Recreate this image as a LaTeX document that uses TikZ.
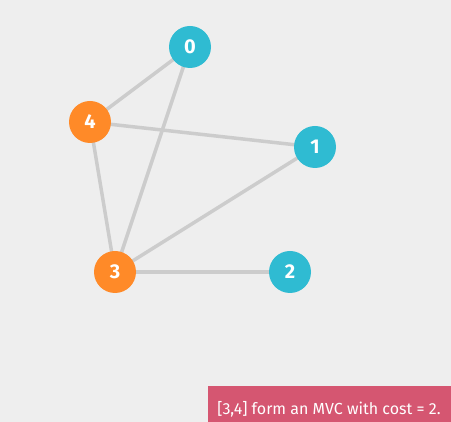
\documentclass[tikz,border=0pt]{standalone}
\usepackage{fontspec}
\setmainfont{Fira Sans}
\usetikzlibrary{backgrounds}
\definecolor{bgcol}{HTML}{EEEEEE}
\definecolor{edgecol}{HTML}{CCCCCC}
\definecolor{cyancol}{HTML}{2FBBD2}
\definecolor{orangecol}{HTML}{FF8A28}
\definecolor{msgcol}{HTML}{D55671}
\tikzset{
  vert/.style={circle, minimum size=42pt, inner sep=0pt, text=white, font=\fontsize{20}{22}\selectfont\bfseries},
  free/.style={vert, fill=cyancol},
  cover/.style={vert, fill=orangecol},
  link/.style={draw=edgecol, line width=3.5pt}
}
\begin{document}
\begin{tikzpicture}[x=1pt, y=-1pt]
        \useasboundingbox (0,0) rectangle (451,422);
        \node[free] (V0) at (190,47) {0};
        \node[free] (V1) at (315,147) {1};
        \node[free] (V2) at (290,272) {2};
        \node[cover] (V3) at (115,272) {3};
        \node[cover] (V4) at (90,122) {4};
        % edges go behind the vertices
        \begin{scope}[on background layer]
        \fill[bgcol] (0,0) rectangle (451,422);
        \draw[link] (V0.center) -- (V4.center);
        \draw[link] (V0.center) -- (V3.center);
        \draw[link] (V4.center) -- (V1.center);
        \draw[link] (V4.center) -- (V3.center);
        \draw[link] (V1.center) -- (V3.center);
        \draw[link] (V3.center) -- (V2.center);
        \end{scope}
        % result message
        \fill[msgcol] (208,386) rectangle (451,422);
        \node[text=white, font=\fontsize{16}{18}\selectfont, anchor=base] (M) at (329,415) {[3,4] form an MVC with cost = 2.};
      \end{tikzpicture}
\end{document}
